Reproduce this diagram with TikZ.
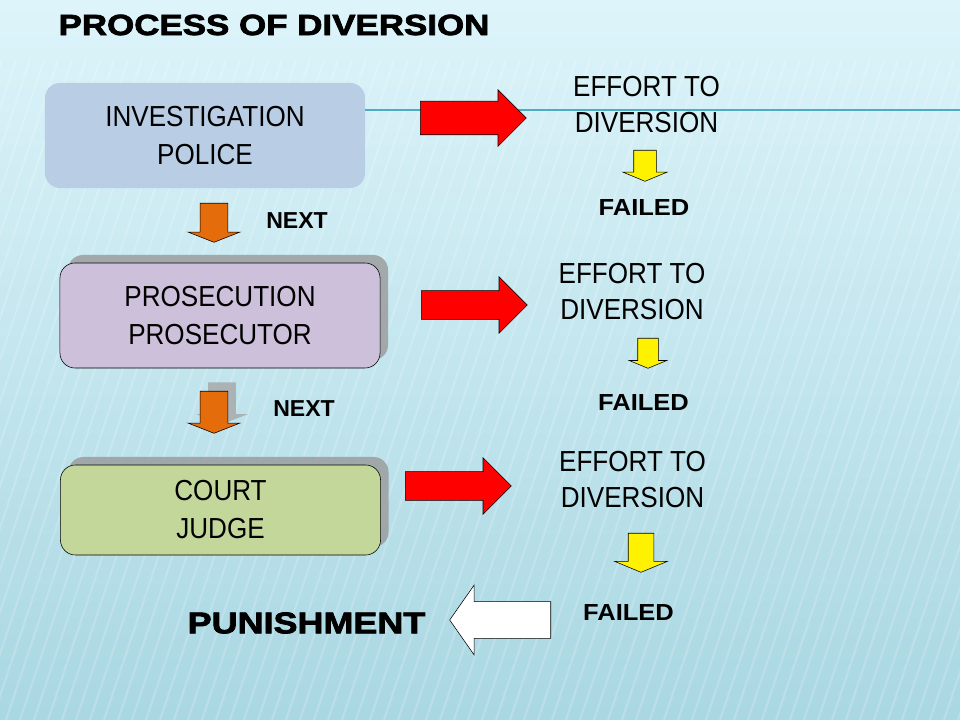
\documentclass[tikz,border=0pt]{standalone}
\usepackage{fontspec}
\setmainfont{Liberation Sans}
\newfontfamily\narrowfont{Liberation Sans}[FakeStretch=0.9]
\newfontfamily\heavyfont{Liberation Sans Bold}[FakeStretch=1.2,FakeBold=2.5]
\newfontfamily\wideboldfont{Liberation Sans Bold}[FakeStretch=1.1]
\usetikzlibrary{shapes.arrows,shadows,positioning}

\definecolor{bgtop}{HTML}{DDF4FA}
\definecolor{bgbot}{HTML}{A9D7E2}
\definecolor{polblue}{HTML}{B9CDE5}
\definecolor{proslilac}{HTML}{CCC0DA}
\definecolor{courtgreen}{HTML}{C4D79B}
\definecolor{rulecol}{HTML}{4BACC6}
\definecolor{nextorange}{HTML}{E46C0A}

\begin{document}
\begin{tikzpicture}[
  x=0.025cm, y=-0.025cm,
  stage/.style={rounded corners=0.375cm, minimum width=8cm, minimum height=2.625cm, align=center,
    font=\narrowfont\fontsize{20.6}{27}\selectfont},
  boxshadow/.style={drop shadow={shadow xshift=0.2cm, shadow yshift=0.2cm, fill=black!40, opacity=0.8}},
  effort/.style={align=center, font=\narrowfont\fontsize{20.6}{25.6}\selectfont},
  failed/.style={font=\wideboldfont\fontsize{16.5}{20}\selectfont},
  nexttxt/.style={font=\bfseries\fontsize{16.4}{20}\selectfont},
  barr/.style n args={4}{single arrow, draw, thin, anchor=tail, minimum height=#1, inner sep=#2,
    single arrow head extend=#3, single arrow tip angle=#4},
  redarr/.style={barr={2.65cm}{0.35cm}{0.35cm}{90}, fill=red},
  orarr/.style={barr={#1}{0.3375cm}{0.3cm}{137}, fill=nextorange, shape border rotate=270},
  yelarr/.style={barr={#1}{0.275cm}{0.275cm}{135}, fill=yellow, shape border rotate=270}
]

% slide background
\useasboundingbox (0,0) rectangle (960,720);
\shade[top color=bgtop, bottom color=bgbot] (0,0) rectangle (960,720);
\foreach \i in {0,14,...,1300}
  \draw[white, opacity=0.18, line width=1.5pt] (\i-260,720) -- (\i-40,60);

% title
\node[font=\heavyfont\fontsize{20.7}{24}\selectfont] (title) at (274,25) {PROCESS OF DIVERSION};

% stages
\node[stage, fill=polblue] (pol) at (205,135.5) {INVESTIGATION\\POLICE};
\node[stage, draw, fill=proslilac, boxshadow] (pros) at (220,315.5) {PROSECUTION\\PROSECUTOR};
\node[stage, draw, fill=courtgreen, boxshadow, minimum height=2.25cm] (court) at (220.5,510) {COURT\\JUDGE};

% rule line
\coordinate (ruleend) at (960,110);
\draw[rulecol, line width=1pt] (pol.east |- ruleend) -- (ruleend);

% next arrows
\node[orarr=0.975cm] (next1) at (214,203) {};
\node[orarr=1.05cm, drop shadow={shadow xshift=0.2cm, shadow yshift=0.225cm, fill=black!35, opacity=0.8}] (next2) at (214,391) {};
\node[nexttxt] (nextlab1) at (297,221) {NEXT};
\node[nexttxt] (nextlab2) at (304,409) {NEXT};

% diversion arrows
\node[redarr, barr={2.65cm}{0.4125cm}{0.2875cm}{90}] (div1) at (420,118) {};
\node[redarr] (div2) at (421,305) {};
\node[redarr] (div3) at (405,486) {};

\node[effort] (eff1) at (646.5,105) {EFFORT TO\\DIVERSION};
\node[effort] (eff2) at (632,292) {EFFORT TO\\DIVERSION};
\node[effort] (eff3) at (632.5,479.5) {EFFORT TO\\DIVERSION};

% failed
\node[yelarr=0.775cm] (fail1) at (645,150) {};
\node[yelarr=0.75cm, barr={0.75cm}{0.25cm}{0.2125cm}{135}] (fail2) at (648,338) {};
\node[yelarr=0.975cm, barr={0.975cm}{0.3125cm}{0.3375cm}{135}] (fail3) at (641,533) {};

\node[failed] (faillab1) at (644,208) {FAILED};
\node[failed] (faillab2) at (643.5,403) {FAILED};
\node[failed] (faillab3) at (628.5,613) {FAILED};

% punishment
\node[barr={2.525cm}{0.45cm}{0.4125cm}{110}, fill=white, shape border rotate=180] (pun) at (551,620) {};
\node[font=\heavyfont\fontsize{21.3}{24}\selectfont] (punlab) at (306.5,623) {PUNISHMENT};

\end{tikzpicture}
\end{document}
